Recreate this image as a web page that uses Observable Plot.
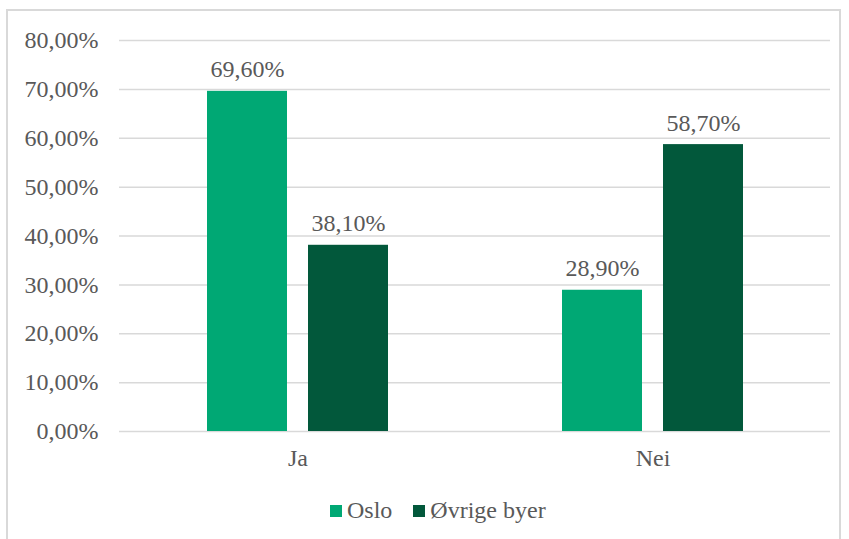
<!DOCTYPE html>
<html>
<head>
<meta charset="utf-8">
<script src="https://cdn.jsdelivr.net/npm/d3@7"></script>
<script src="https://cdn.jsdelivr.net/npm/@observablehq/plot@0.6"></script>
<style>
  html, body { margin: 0; padding: 0; background: #fff; }
  body { width: 849px; height: 539px; position: relative; overflow: hidden; font-family: "Liberation Serif", "Times New Roman", serif; }
  #frame { position: absolute; left: 6px; top: 9px; width: 835px; height: 540px; border: 2px solid #d9d9d9; box-sizing: border-box; }
  #chart { position: absolute; left: 0; top: 0; }
  #legend { position: absolute; left: 330px; top: 497px; display: flex; align-items: center; font-size: 24px; color: #595959; }
  .item { display: flex; align-items: center; margin-right: 21px; }
  .sw { width: 12px; height: 12px; margin-right: 5px; }
</style>
</head>
<body>
<div id="frame"></div>
<div id="chart"></div>
<div id="legend"></div>
<script>
const categories = ["Ja", "Nei"];
const series = ["Oslo", "Øvrige byer"];
const osloValues = [69.6, 28.9];
const ovrigeValues = [38.1, 58.7];
const yTicks = [0, 10, 20, 30, 40, 50, 60, 70, 80];
const colors = ["#00a874", "#02583b"];

const fmt = v => v.toFixed(2).replace(".", ",") + "%";
const osloData = categories.map((c, i) => ({category: c, series: series[0], value: osloValues[i]}));
const ovrigeData = categories.map((c, i) => ({category: c, series: series[1], value: ovrigeValues[i]}));

const textColor = "#595959";
const font = "Liberation Serif";

const chart = Plot.plot({
  width: 849,
  height: 480,
  marginLeft: 119,
  marginRight: 19,
  marginTop: 40,
  marginBottom: 49,
  style: {fontFamily: font, fontSize: "24px", color: textColor, background: "transparent"},
  x: {domain: categories, paddingInner: 0.491, paddingOuter: 0.2455, label: null},
  y: {domain: [0, 80], label: null},
  marks: [
    Plot.ruleY(yTicks, {stroke: "#d9d9d9", strokeWidth: 1.5}),
    Plot.barY(osloData, {x: "category", y: "value", fill: colors[0], insetRight: 101, insetLeft: 0}),
    Plot.barY(ovrigeData, {x: "category", y: "value", fill: colors[1], insetLeft: 101, insetRight: 0}),
    Plot.text(osloData, {x: "category", y: "value", text: d => fmt(d.value), dx: -50.5, dy: -14, lineAnchor: "bottom", fill: textColor, fontSize: 24}),
    Plot.text(ovrigeData, {x: "category", y: "value", text: d => fmt(d.value), dx: 50.5, dy: -14, lineAnchor: "bottom", fill: textColor, fontSize: 24}),
    Plot.axisY({ticks: yTicks, tickSize: 0, tickPadding: 21, tickFormat: v => fmt(v), fill: textColor, fontSize: 24}),
    Plot.axisX({tickSize: 0, tickPadding: 17, fill: textColor, fontSize: 24})
  ]
});
document.getElementById("chart").appendChild(chart);

const legend = document.getElementById("legend");
series.forEach((s, i) => {
  const item = document.createElement("div");
  item.className = "item";
  const sw = document.createElement("div");
  sw.className = "sw";
  sw.style.background = colors[i];
  const label = document.createElement("span");
  label.textContent = s;
  item.appendChild(sw);
  item.appendChild(label);
  legend.appendChild(item);
});
</script>
</body>
</html>
